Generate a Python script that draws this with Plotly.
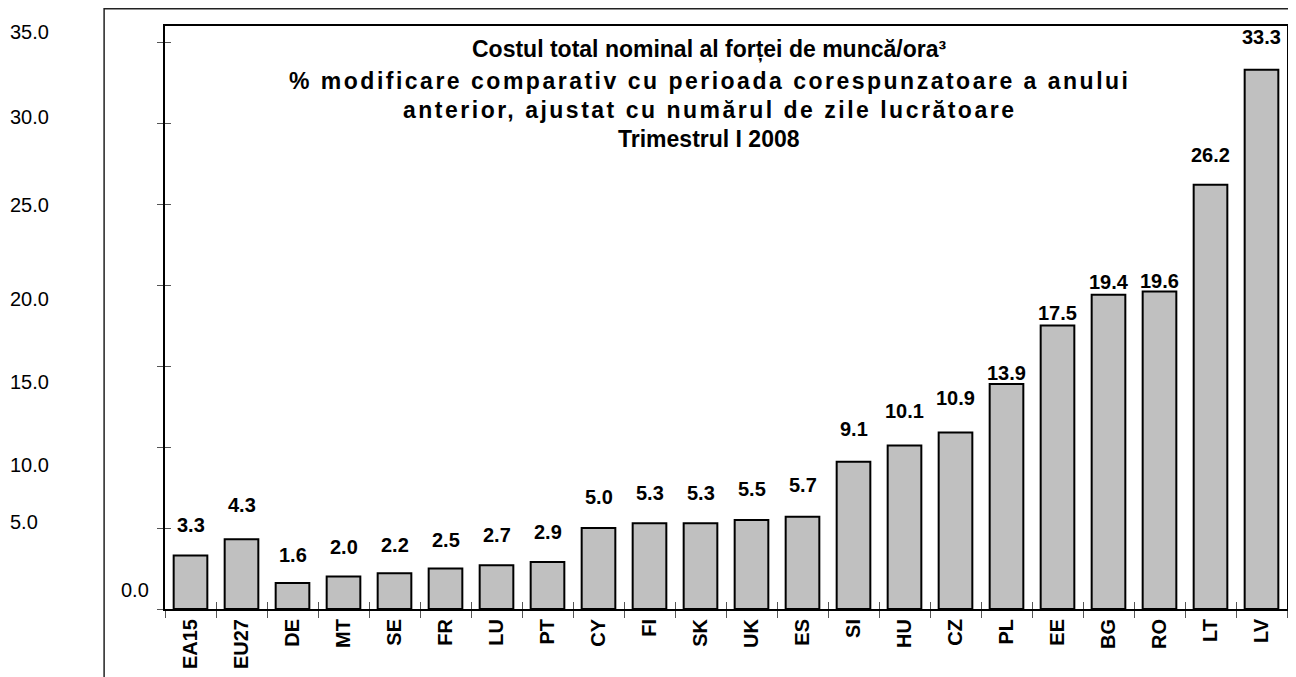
import plotly.graph_objects as go

# ---- data ----
countries = ["EA15", "EU27", "DE", "MT", "SE", "FR", "LU", "PT", "CY", "FI", "SK",
             "UK", "ES", "SI", "HU", "CZ", "PL", "EE", "BG", "RO", "LT", "LV"]
values = [3.3, 4.3, 1.6, 2.0, 2.2, 2.5, 2.7, 2.9, 5.0, 5.3, 5.3,
          5.5, 5.7, 9.1, 10.1, 10.9, 13.9, 17.5, 19.4, 19.6, 26.2, 33.3]
y_tick_values = [0, 5, 10, 15, 20, 25, 30, 35]
y_tick_labels = ["0.0", "5.0", "10.0", "15.0", "20.0", "25.0", "30.0", "35.0"]
title_lines = [
    "Costul total nominal al forței de muncă/ora³",
    "% modificare comparativ cu perioada corespunzatoare a anului",
    "anterior, ajustat cu numărul de zile lucrătoare",
    "Trimestrul I 2008",
]

# ---- layout geometry (screen pixels of the original) ----
OFF = 8                      # page body margin in the browser
W, H = 1296 - OFF, 677 - OFF
PLOT_L, PLOT_R, PLOT_T, PLOT_B = 165, 1289, 26, 609   # screen pixels
ML, MT = PLOT_L - OFF, PLOT_T - OFF
MR, MB = W - (PLOT_R - OFF), H - (PLOT_B - OFF)
PW, PH = W - ML - MR, H - MT - MB

def px_x(px):
    return (px - PLOT_L) / PW

def px_y(py):
    return (PLOT_B - py) / PH

FONT = "Liberation Sans, Arial, sans-serif"

# vertical pixel shift of each value label above its bar
label_shift = [31, 34, 28, 30, 28, 29, 30, 30, 31, 30, 30,
               31, 32, 33, 34, 34, 11, 13, 13, 11, 30, 33]
# shift of the left-hand tick texts relative to their tick (pixels) and x position
ytext_shift = [19, 6, -18, -16, -14, -1, 6, 10]
ytext_x = [119, 8, 8, 8, 8, 8, 8, 8]

fig = go.Figure()
fig.add_trace(go.Bar(
    x=countries, y=values,
    width=0.66,
    marker=dict(color="#c0c0c0", line=dict(color="#000000", width=2)),
    showlegend=False, hoverinfo="x+y",
))
# helper trace so the overlay tick axes render
fig.add_trace(go.Scatter(x=[None], y=[None], xaxis="x2", yaxis="y2",
                         showlegend=False, hoverinfo="skip"))

annotations = []
for c, v, s in zip(countries, values, label_shift):
    annotations.append(dict(
        x=c, y=v, xref="x", yref="y", text=f"{v:.1f}", showarrow=False,
        yshift=s, yanchor="middle", xanchor="center",
        font=dict(family=FONT, size=20, color="#000000", weight="bold"),
    ))

for tv, tl, s, xp in zip(y_tick_values, y_tick_labels, ytext_shift, ytext_x):
    annotations.append(dict(
        x=px_x(xp), y=tv, xref="paper", yref="y", text=tl, showarrow=False,
        yshift=s, xanchor="left", yanchor="middle",
        font=dict(family=FONT, size=20, color="#000000"),
    ))

title_y = [49, 81, 110, 139]
title_x = 710
for i, (t, ty) in enumerate(zip(title_lines, title_y)):
    if i in (1, 2):
        txt = f'<span style="letter-spacing:2.5px">{t}</span>'
    else:
        txt = t
    annotations.append(dict(
        x=px_x(title_x), y=px_y(ty), xref="paper", yref="paper", text=txt,
        showarrow=False, xanchor="center", yanchor="middle",
        font=dict(family=FONT, size=23, color="#000000", weight="bold"),
    ))

fig.update_layout(
    width=W, height=H,
    margin=dict(l=ML, r=MR, t=MT, b=MB, pad=0),
    paper_bgcolor="white", plot_bgcolor="white",
    xaxis=dict(
        type="category", range=[-0.5, len(countries) - 0.5],
        tickson="boundaries", ticks="outside", ticklen=7, tickwidth=1,
        tickcolor="#555555", tickangle=-90,
        tickfont=dict(family=FONT, size=20, color="#000000", weight="bold"),
        showline=True, linecolor="#000000", linewidth=2, mirror=True,
        showgrid=False, zeroline=False, fixedrange=True,
    ),
    yaxis=dict(
        range=[0, 36], tickvals=y_tick_values, showticklabels=False,
        ticks="outside", ticklen=6, tickwidth=1, tickcolor="#555555",
        showline=True, linecolor="#000000", linewidth=2, mirror=True,
        showgrid=False, zeroline=False, fixedrange=True,
    ),
    xaxis2=dict(
        overlaying="x", anchor="y", range=[-0.5, len(countries) - 0.5],
        tickvals=[i - 0.5 for i in range(len(countries) + 1)],
        ticks="inside", ticklen=7, tickwidth=1, tickcolor="#555555",
        showticklabels=False, showline=False, showgrid=False, zeroline=False,
        fixedrange=True,
    ),
    yaxis2=dict(
        overlaying="y", anchor="x", range=[0, 36], tickvals=y_tick_values,
        ticks="inside", ticklen=6, tickwidth=1, tickcolor="#555555",
        showticklabels=False, showline=False, showgrid=False, zeroline=False,
        fixedrange=True,
    ),
    annotations=annotations,
    shapes=[dict(
        type="rect", xref="paper", yref="paper",
        x0=px_x(104), x1=px_x(1330), y0=px_y(720), y1=px_y(OFF + 0.8),
        line=dict(color="#222222", width=1.5), fillcolor="rgba(0,0,0,0)",
        layer="below",
    )],
)

fig.write_html("out.html")
